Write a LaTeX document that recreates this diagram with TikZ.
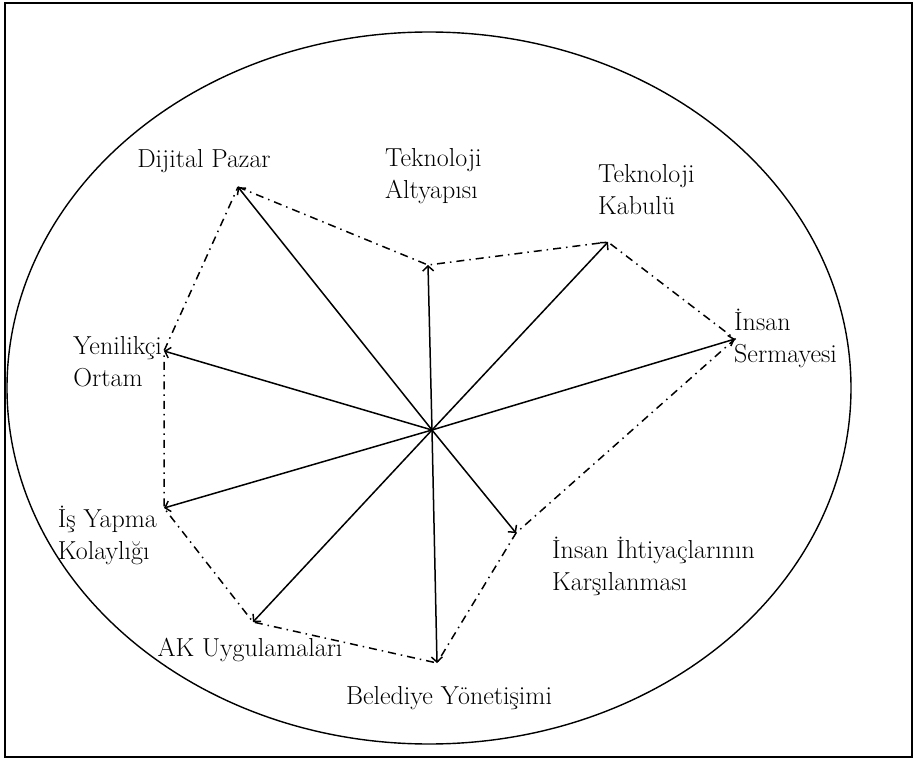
\documentclass[tikz,border=0pt]{standalone}
\usetikzlibrary{arrows.meta}

\tikzset{
  frame/.style={line width=2.8pt},
  spoke/.style={-{Straight Barb[length=5pt,width=11pt]},line width=1.5pt},
  rim/.style={line width=1.5pt,dash pattern=on 8pt off 5pt on 1.5pt off 5pt},
  lbl/.style={inner sep=0pt,align=left,font=\fontsize{26}{32}\selectfont}
}

\begin{document}
\begin{tikzpicture}[x=1pt,y=-1pt]
  \useasboundingbox (0,0) rectangle (914,760);
  \draw[frame] (5,3) rectangle (912,757);
  \draw[line width=1.4pt] (429,388) ellipse [x radius=422, y radius=356];

  % centre and the end of each axis
  \coordinate (c) at (432,430);
  \coordinate (dp) at (238,187);
  \coordinate (ta) at (428,265);
  \coordinate (tk) at (608,242);
  \coordinate (is) at (735,339);
  \coordinate (ik) at (516,533);
  \coordinate (by) at (437,663);
  \coordinate (ak) at (253,622);
  \coordinate (iy) at (164,508);
  \coordinate (yo) at (164,351);

  \foreach \p in {dp,ta,tk,is,ik,by,ak,iy,yo} {
    \draw[spoke] (c) -- (\p);
  }
  \draw[rim] (dp) -- (ta) -- (tk) -- (is) -- (ik) -- (by) -- (ak) -- (iy) -- (yo) -- cycle;

  \node[lbl] (ldp) at (204,161) {Dijital Pazar};
  \node[lbl,anchor=west] (lta) at (385,176) {Teknoloji\\Altyapısı};
  \node[lbl,anchor=west] (ltk) at (598,190) {Teknoloji\\Kabulü};
  \node[lbl,anchor=west] (lis) at (734,338) {İnsan\\Sermayesi};
  \node[lbl,anchor=west] (lik) at (552,566) {İnsan İhtiyaçlarının\\Karşılanması};
  \node[lbl] (lby) at (449,698) {Belediye Yönetişimi};
  \node[lbl] (lak) at (250,650) {AK Uygulamaları};
  \node[lbl,anchor=east] (liy) at (157,535) {İş Yapma\\Kolaylığı};
  \node[lbl,anchor=east] (lyo) at (162,362) {Yenilikçi\\Ortam};
\end{tikzpicture}
\end{document}
